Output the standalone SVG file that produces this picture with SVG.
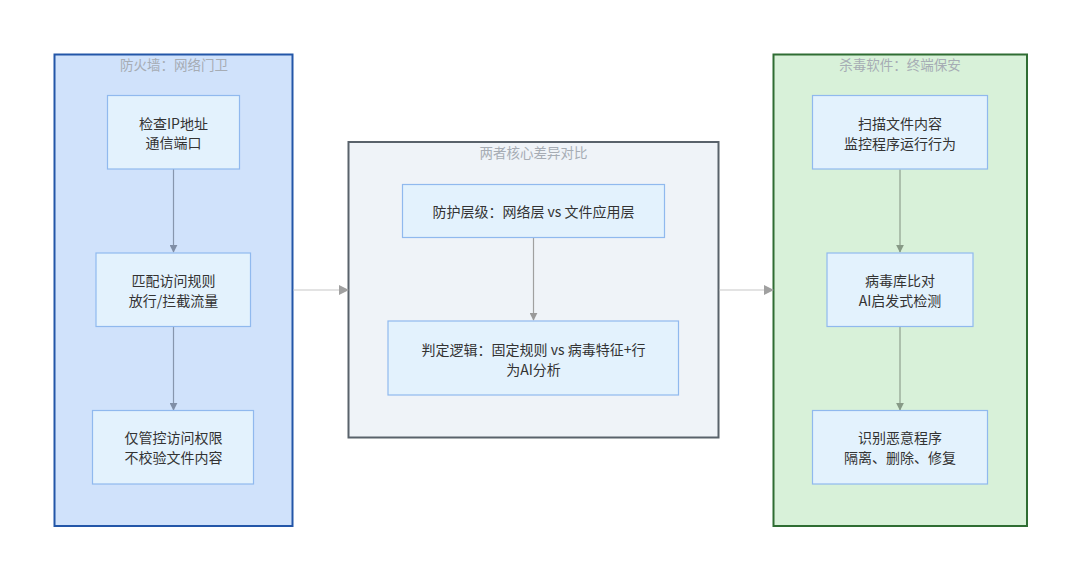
<svg xmlns="http://www.w3.org/2000/svg" width="1080" height="580" viewBox="0 0 1080 580">
<defs>
<style>
text{font-family:"Noto Sans CJK SC","Noto Sans",sans-serif;text-anchor:middle;dominant-baseline:central}
.node rect{fill:#e3f2fd;stroke:#90b9ee;stroke-width:1.2}
.node text{font-size:14px;fill:#333}
.title{font-size:13.5px;fill:#a6acb4}
.edge{fill:none;stroke-width:1.2}
</style>
<marker id="ah-blue" viewBox="0 0 10 10" refX="9" refY="5" markerWidth="8" markerHeight="8" orient="auto" markerUnits="userSpaceOnUse"><path d="M0,0 L10,5 L0,10 z" fill="#7f8ea6"/></marker>
<marker id="ah-grey" viewBox="0 0 10 10" refX="9" refY="5" markerWidth="8" markerHeight="8" orient="auto" markerUnits="userSpaceOnUse"><path d="M0,0 L10,5 L0,10 z" fill="#999"/></marker>
<marker id="ah-green" viewBox="0 0 10 10" refX="9" refY="5" markerWidth="8" markerHeight="8" orient="auto" markerUnits="userSpaceOnUse"><path d="M0,0 L10,5 L0,10 z" fill="#879a86"/></marker>
<marker id="ah-out" viewBox="0 0 10 10" refX="9" refY="5" markerWidth="10" markerHeight="10" orient="auto" markerUnits="userSpaceOnUse"><path d="M0,0 L10,5 L0,10 z" fill="#a0a0a0"/></marker>
</defs>
<rect width="1080" height="580" fill="#ffffff"/>

<g id="cluster-firewall">
<rect x="54.5" y="54.5" width="238" height="471.5" fill="#d0e2fb" stroke="#2356a8" stroke-width="2"/>
<text class="title" x="174" y="63.5">防火墙：网络门卫</text>
</g>
<g id="cluster-compare">
<rect x="348.5" y="142" width="370" height="295.5" fill="#eff3f8" stroke="#59626b" stroke-width="2"/>
<text class="title" x="533.5" y="152">两者核心差异对比</text>
</g>
<g id="cluster-antivirus">
<rect x="773.5" y="54.5" width="253.5" height="471.5" fill="#d8f1d9" stroke="#2f6d33" stroke-width="2"/>
<text class="title" x="900" y="63.5">杀毒软件：终端保安</text>
</g>

<g id="connectors">
<path class="edge" d="M173.5,169 V252" stroke="#8796ad" marker-end="url(#ah-blue)"/>
<path class="edge" d="M173.5,327 V410" stroke="#8796ad" marker-end="url(#ah-blue)"/>
<path class="edge" d="M533.5,238 V320" stroke="#a0a0a0" marker-end="url(#ah-grey)"/>
<path class="edge" d="M900,169.5 V252" stroke="#8fa08e" marker-end="url(#ah-green)"/>
<path class="edge" d="M900,327 V410" stroke="#8fa08e" marker-end="url(#ah-green)"/>
<path class="edge" d="M293.5,290 H348" stroke="#c8c8c8" marker-end="url(#ah-out)"/>
<path class="edge" d="M719.5,290 H773" stroke="#c8c8c8" marker-end="url(#ah-out)"/>
</g>

<g id="fw1" class="node"><rect x="107.5" y="95.5" width="132" height="73.5"/><text x="173.5" y="122.5">检查IP地址</text><text x="173.5" y="142">通信端口</text></g>
<g id="fw2" class="node"><rect x="96" y="253" width="154.5" height="73.5"/><text x="173.5" y="280">匹配访问规则</text><text x="173.5" y="300">放行/拦截流量</text></g>
<g id="fw3" class="node"><rect x="92.5" y="410.5" width="161" height="73.5"/><text x="173.5" y="437">仅管控访问权限</text><text x="173.5" y="457">不校验文件内容</text></g>

<g id="cmp1" class="node"><rect x="402.5" y="184.5" width="262" height="53"/><text x="533.5" y="211">防护层级：网络层 vs 文件应用层</text></g>
<g id="cmp2" class="node"><rect x="388" y="321" width="290.5" height="74"/><text x="533.5" y="348.5">判定逻辑：固定规则 vs 病毒特征+行</text><text x="533.5" y="368.5">为AI分析</text></g>

<g id="av1" class="node"><rect x="812.5" y="95.5" width="175" height="73.5"/><text x="900" y="122.5">扫描文件内容</text><text x="900" y="142.5">监控程序运行行为</text></g>
<g id="av2" class="node"><rect x="827" y="253" width="146" height="73.5"/><text x="900" y="280">病毒库比对</text><text x="900" y="300">AI启发式检测</text></g>
<g id="av3" class="node"><rect x="812.5" y="410.5" width="175" height="73.5"/><text x="900" y="437">识别恶意程序</text><text x="900" y="457">隔离、删除、修复</text></g>
</svg>
